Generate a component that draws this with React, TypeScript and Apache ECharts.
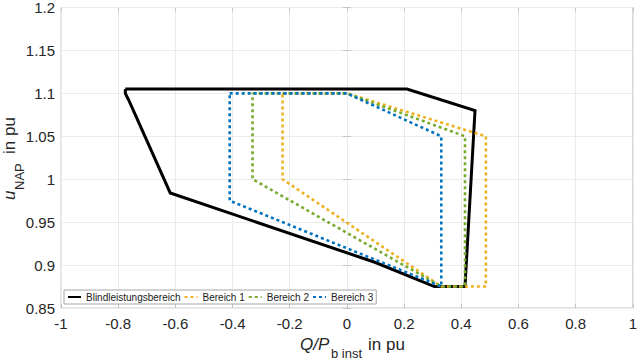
import React, { useEffect, useRef } from "react";
import * as echarts from "echarts";

// Polygons (x = Q/P_b inst in pu, y = u_NAP in pu)
const blindleistungsbereich: [number, number][] = [
  [-0.775, 1.105], [0.21, 1.105], [0.448, 1.08], [0.413, 0.875], [0.306, 0.875],
  [0.1, 0.903], [-0.618, 0.984], [-0.763, 1.092], [-0.775, 1.1], [-0.775, 1.105],
];
const bereich1: [number, number][] = [
  [-0.225, 1.1], [0, 1.1], [0.486, 1.05], [0.486, 0.875], [0.33, 0.875], [-0.225, 1.0], [-0.225, 1.1],
];
const bereich2: [number, number][] = [
  [-0.33, 1.1], [0, 1.1], [0.413, 1.05], [0.413, 0.875], [0.33, 0.875], [-0.33, 1.0], [-0.33, 1.1],
];
const bereich3: [number, number][] = [
  [-0.41, 1.1], [0, 1.1], [0.33, 1.05], [0.33, 0.875], [-0.41, 0.975], [-0.41, 1.1],
];

const seriesNames = ["Blindleistungsbereich", "Bereich 1", "Bereich 2", "Bereich 3"];
const seriesData = [blindleistungsbereich, bereich1, bereich2, bereich3];
const seriesColors = ["#000000", "#EDB120", "#77AC30", "#0072BD"];

const xMin = -1, xMax = 1, xStep = 0.2;
const yMin = 0.85, yMax = 1.2, yStep = 0.05;

const FONT = "'Liberation Sans', Arial, Helvetica, sans-serif";
const fmt = (v: number) => String(parseFloat(v.toFixed(2)));

export default function App() {
  const ref = useRef<HTMLDivElement>(null);
  useEffect(() => {
    if (!ref.current) return;
    const chart = echarts.init(ref.current, undefined, { renderer: "svg" });
    const axisColor = "#c4c4c4";
    const gridColor = "#ebebeb";
    const baseX = {
      type: "value" as const, min: xMin, max: xMax, interval: xStep,
      axisLine: { show: false },
      axisTick: { show: true, inside: true, length: 4, lineStyle: { color: axisColor } },
    };
    const baseY = {
      type: "value" as const, min: yMin, max: yMax, interval: yStep,
      axisLine: { show: false },
      axisTick: { show: true, inside: true, length: 4, lineStyle: { color: axisColor } },
    };
    chart.setOption({
      animation: false,
      backgroundColor: "#ffffff",
      textStyle: { fontFamily: FONT },
      grid: { left: 61, right: 3, top: 5, bottom: 52, show: true, borderColor: axisColor, borderWidth: 1, backgroundColor: "#fff" },
      xAxis: [
        { ...baseX, position: "bottom",
          axisLabel: { fontSize: 15, color: "#262626", margin: 8, formatter: fmt, fontFamily: FONT },
          splitLine: { show: true, lineStyle: { color: gridColor, width: 1 } } },
        { ...baseX, position: "top", axisLabel: { show: false }, splitLine: { show: false } },
      ],
      yAxis: [
        { ...baseY, position: "left",
          axisLabel: { fontSize: 15, color: "#262626", margin: 6, formatter: fmt, fontFamily: FONT },
          splitLine: { show: true, lineStyle: { color: gridColor, width: 1 } } },
        { ...baseY, position: "right", axisLabel: { show: false }, splitLine: { show: false } },
      ],
      legend: {
        left: 64, top: 290, orient: "horizontal",
        padding: [2, 3], itemGap: 3, itemWidth: 13, itemHeight: 10,
        backgroundColor: "#ffffff", borderColor: "#a6a6a6", borderWidth: 1, borderRadius: 0,
        itemStyle: { opacity: 0 },
        textStyle: { fontSize: 10, color: "#1a1a1a", fontFamily: FONT },
        data: seriesNames,
      },
      series: seriesNames.map((name, i) => ({
        name, type: "line", xAxisIndex: 0, yAxisIndex: 0,
        data: seriesData[i], showSymbol: false, symbol: "none", smooth: false,
        lineStyle: i === 0
          ? { color: seriesColors[i], width: 3, type: "solid", join: "miter" }
          : { color: seriesColors[i], width: 2.6, type: [3, 3], cap: "butt" },
        itemStyle: { color: seriesColors[i] },
        z: 2 + i,
      })),
      graphic: [
        { type: "text", x: 300, y: 344, style: { text: "Q/P", fontSize: 17, fontStyle: "italic", fontFamily: FONT, fill: "#262626", align: "left", verticalAlign: "middle" } },
        { type: "text", x: 331, y: 353, style: { text: "b inst", fontSize: 13, fontFamily: FONT, fill: "#262626", align: "left", verticalAlign: "middle" } },
        { type: "text", x: 368, y: 344, style: { text: "in pu", fontSize: 17, fontFamily: FONT, fill: "#262626", align: "left", verticalAlign: "middle" } },
        { type: "text", x: 9, y: 200, rotation: Math.PI / 2, style: { text: "u", fontSize: 17, fontStyle: "italic", fontFamily: FONT, fill: "#262626", align: "left", verticalAlign: "middle" } },
        { type: "text", x: 19, y: 190, rotation: Math.PI / 2, style: { text: "NAP", fontSize: 13, fontFamily: FONT, fill: "#262626", align: "left", verticalAlign: "middle" } },
        { type: "text", x: 9, y: 154, rotation: Math.PI / 2, style: { text: "in pu", fontSize: 17, fontFamily: FONT, fill: "#262626", align: "left", verticalAlign: "middle" } },
      ],
    });
    return () => chart.dispose();
  }, []);
  return <div ref={ref} style={{ position: "fixed", left: 0, top: 0, width: 640, height: 360 }} />;
}
